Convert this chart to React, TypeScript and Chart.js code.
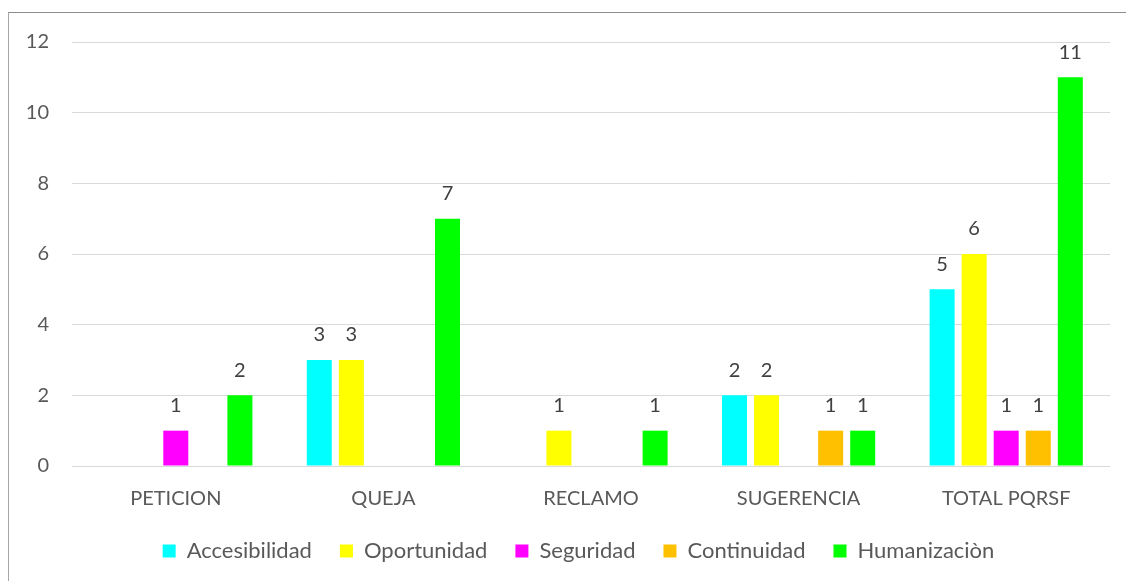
import React, { useEffect, useRef } from "react";
import { Chart, registerables } from "chart.js";

Chart.register(...registerables);

const categories = ["PETICION", "QUEJA", "RECLAMO", "SUGERENCIA", "TOTAL PQRSF"];
const accesibilidad = [null, 3, null, 2, 5];
const oportunidad = [null, 3, 1, 2, 6];
const seguridad = [1, null, null, null, 1];
const continuidad = [null, null, null, 1, 1];
const humanizacion = [2, 7, 1, 1, 11];
const yTicks = [0, 2, 4, 6, 8, 10, 12];

const FONT = "Lato, 'Noto Sans', sans-serif";

const valueLabels = {
  id: "valueLabels",
  afterDatasetsDraw(chart: any) {
    const ctx = chart.ctx;
    ctx.save();
    ctx.font = `20px ${FONT}`;
    ctx.fillStyle = "#404040";
    ctx.textAlign = "center";
    ctx.textBaseline = "middle";
    chart.data.datasets.forEach((ds: any, i: number) => {
      const meta = chart.getDatasetMeta(i);
      meta.data.forEach((bar: any, j: number) => {
        const v = ds.data[j];
        if (v === null || v === undefined) return;
        ctx.fillText(String(v), bar.x, bar.y - 25);
      });
    });
    ctx.restore();
  },
};

const legendShift = {
  id: "legendShift",
  afterLayout(chart: any) {
    const lg = chart.legend;
    if (lg) {
      lg.left += 19;
      lg.right += 19;
    }
  },
};

export default function App() {
  const ref = useRef<HTMLCanvasElement>(null);
  useEffect(() => {
    if (!ref.current) return;
    const mk = (label: string, data: any[], color: string) => ({
      label,
      data,
      backgroundColor: color,
      borderWidth: 0,
      categoryPercentage: 0.772,
      barPercentage: 0.78,
    });
    const chart = new Chart(ref.current, {
      type: "bar",
      data: {
        labels: categories,
        datasets: [
          mk("Accesibilidad", accesibilidad, "#00FFFF"),
          mk("Oportunidad", oportunidad, "#FFFF00"),
          mk("Seguridad", seguridad, "#FF00FF"),
          mk("Continuidad", continuidad, "#FFC000"),
          mk("Humanizaciòn", humanizacion, "#00FF00"),
        ],
      },
      options: {
        animation: false,
        responsive: false,
        maintainAspectRatio: false,
        layout: { padding: { top: 29, right: 16, bottom: 9, left: 0 } },
        scales: {
          x: {
            afterFit: (s: any) => {
              s.height = 46;
            },
            grid: { display: false },
            border: { display: false },
            ticks: {
              color: "#595959",
              font: { family: FONT, size: 20 },
              padding: 13,
              maxRotation: 0,
            },
          },
          y: {
            min: 0,
            max: 12,
            afterFit: (s: any) => {
              s.width = 63;
              s.paddingTop = 10;
              s.paddingBottom = 10;
            },
            afterBuildTicks: (s: any) => {
              s.ticks = yTicks.map((v) => ({ value: v }));
            },
            grid: { color: "#d9d9d9", lineWidth: 1, drawTicks: false },
            border: { display: false },
            ticks: {
              color: "#595959",
              font: { family: FONT, size: 20 },
              padding: 23,
            },
          },
        },
        plugins: {
          tooltip: { enabled: false },
          legend: {
            position: "bottom",
            labels: {
              boxWidth: 13,
              boxHeight: 13,
              padding: 28,
              color: "#595959",
              font: { family: FONT, size: 22 },
            },
          },
        },
      },
      plugins: [valueLabels, legendShift],
    });
    return () => chart.destroy();
  }, []);
  return (
    <div
      style={{
        position: "absolute",
        left: 8,
        top: 12,
        width: 1118,
        height: 569,
        borderTop: "1px solid #8c8c8c",
        borderLeft: "1px solid #a6a6a6",
        background: "#fff",
      }}
    >
      <canvas ref={ref} width={1117} height={568} style={{ display: "block" }} />
    </div>
  );
}
